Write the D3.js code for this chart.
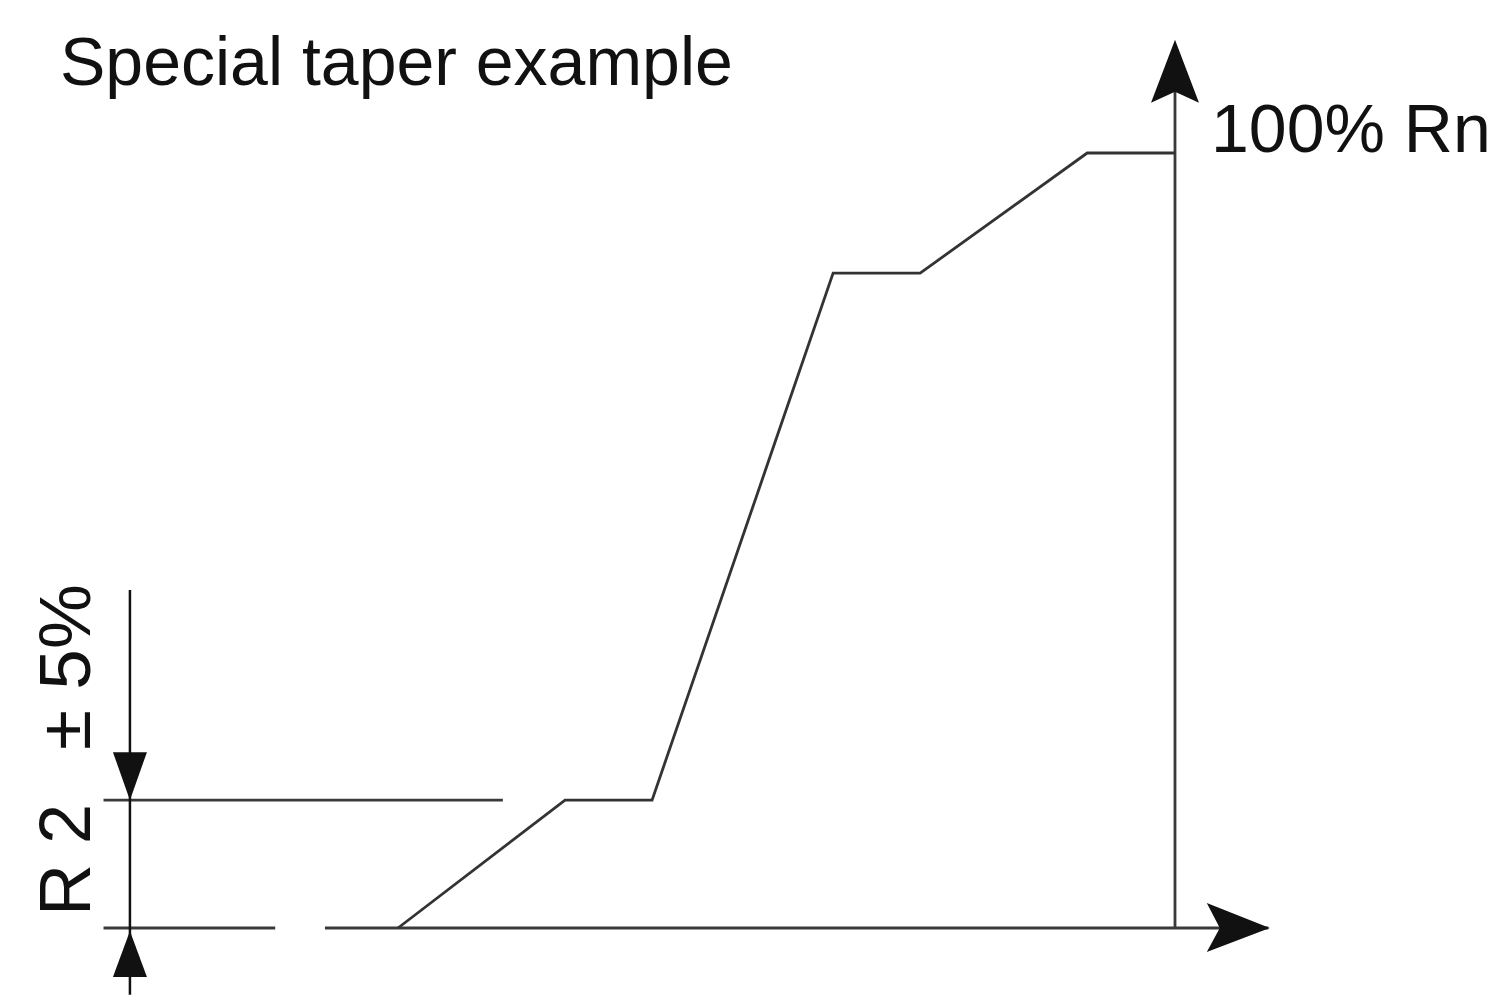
<!DOCTYPE html>
<html>
<head>
<meta charset="utf-8">
<script src="https://cdnjs.cloudflare.com/ajax/libs/d3/7.8.5/d3.min.js"></script>
<style>
  html, body { margin: 0; padding: 0; background: #fff; }
  svg { display: block; }
  text { font-family: "Liberation Sans", Arial, sans-serif; fill: #111; }
</style>
</head>
<body>
<div id="chart"></div>
<script>
// taper curve: rotation (% of travel) vs resistance (% of Rn)
const rotation = [0, 21.5, 32.7, 56.0, 67.2, 88.7, 100];
const resistance = [0, 16.5, 16.5, 84.5, 84.5, 100, 100];

const titleText = "Special taper example";
const yLabel = "100% Rn";
const r2Label = "R 2";
const tolLabel = "\u00B1 5%";
const r2Level = 16.5; // R2 step level

const W = 1499, H = 995;

const svg = d3.select("#chart")
  .append("svg")
  .attr("width", W)
  .attr("height", H);

const x = d3.scaleLinear().domain([0, 100]).range([398, 1175]);
const y = d3.scaleLinear().domain([0, 100]).range([928, 153]);

const lineCol = "#3a3a3a";

// horizontal axis (with a gap to the left)
svg.append("line")
  .attr("x1", x(-9.4)).attr("x2", x(112))
  .attr("y1", y(0)).attr("y2", y(0))
  .attr("stroke", lineCol).attr("stroke-width", 2.8);

svg.append("line")
  .attr("x1", x(-37.9)).attr("x2", x(-15.8))
  .attr("y1", y(0)).attr("y2", y(0))
  .attr("stroke", lineCol).attr("stroke-width", 2.8);

// vertical axis at 100% rotation
svg.append("line")
  .attr("x1", x(100)).attr("x2", x(100))
  .attr("y1", y(0)).attr("y2", y(112))
  .attr("stroke", lineCol).attr("stroke-width", 2.8);

// R2 level extension line
svg.append("line")
  .attr("x1", x(-37.9)).attr("x2", x(13.5))
  .attr("y1", y(r2Level)).attr("y2", y(r2Level))
  .attr("stroke", lineCol).attr("stroke-width", 2.8);

// dimension line
const dimX = x(-34.5);
svg.append("line")
  .attr("x1", dimX).attr("x2", dimX)
  .attr("y1", y(43.6)).attr("y2", y(-8.6))
  .attr("stroke", "#111").attr("stroke-width", 2.5);

// arrow heads
const ax = x(100), ay = y(114.6);
svg.append("path")
  .attr("d", `M${ax},${ay} L${ax + 24},${ay + 63} L${ax},${ay + 52} L${ax - 24},${ay + 63} Z`)
  .attr("fill", "#111");

const hx = x(112.2), hy = y(0);
svg.append("path")
  .attr("d", `M${hx},${hy} L${hx - 63},${hy - 25} L${hx - 50},${hy} L${hx - 63},${hy + 24} Z`)
  .attr("fill", "#111");

const dy1 = y(r2Level);
svg.append("path")
  .attr("d", `M${dimX},${dy1} L${dimX - 17},${dy1 - 48} L${dimX + 17},${dy1 - 48} Z`)
  .attr("fill", "#111");

const dy2 = y(0) + 3;
svg.append("path")
  .attr("d", `M${dimX},${dy2} L${dimX - 17},${dy2 + 46} L${dimX + 17},${dy2 + 46} Z`)
  .attr("fill", "#111");

// taper curve
const pts = rotation.map((r, i) => [r, resistance[i]]);
const line = d3.line().x(d => x(d[0])).y(d => y(d[1]));
svg.append("path")
  .datum(pts)
  .attr("d", line)
  .attr("fill", "none")
  .attr("stroke", "#333")
  .attr("stroke-width", 2.8)
  .attr("stroke-linejoin", "miter");

// texts
svg.append("text")
  .attr("x", 60).attr("y", 85)
  .style("font-size", "68px")
  .text(titleText);

svg.append("text")
  .attr("x", 1211).attr("y", 152)
  .style("font-size", "68px")
  .text(yLabel);

svg.append("text")
  .attr("transform", "translate(90,916) rotate(-90)")
  .style("font-size", "72px")
  .text(r2Label);

svg.append("text")
  .attr("transform", "translate(90,750) rotate(-90)")
  .style("font-size", "73px")
  .text(tolLabel);
</script>
</body>
</html>
